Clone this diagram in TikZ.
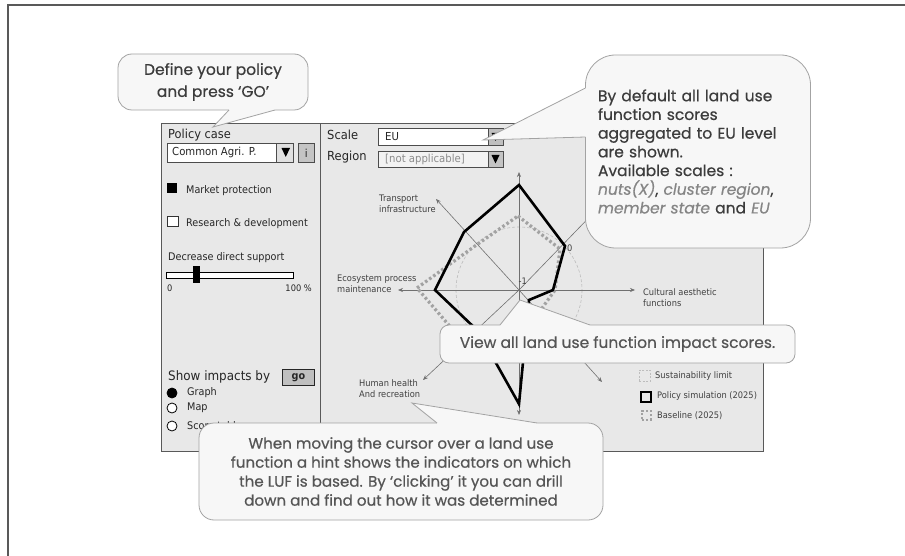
\documentclass[tikz,border=0pt]{standalone}
\usepackage{fontspec}
\setmainfont{DejaVu Sans}
\newfontfamily\uifont{DejaVu Sans}[FakeStretch=0.92]
\newfontfamily\tipfont{Poppins}[FakeBold=0.55]
\usetikzlibrary{arrows.meta,calc}

\definecolor{panel}{HTML}{E8E8E8}
\definecolor{frameline}{HTML}{595959}
\definecolor{tipfill}{HTML}{F7F7F7}
\definecolor{tipline}{HTML}{A3A3A3}
\definecolor{tiptext}{HTML}{555555}
\definecolor{tipdark}{HTML}{3C3C3C}
\definecolor{tipsoft}{HTML}{858585}
\definecolor{axisgray}{HTML}{707070}
\definecolor{basegray}{HTML}{A2A2A2}
\definecolor{limitgray}{HTML}{BDBDBD}
\definecolor{knobgray}{HTML}{C4C4C4}

\tikzset{
  panelbox/.style={draw=frameline, fill=panel, line width=0.9pt},
  field/.style={draw=black!70, fill=white, line width=0.7pt, inner sep=0pt, anchor=north west},
  knob/.style={draw=black!70, fill=knobgray, line width=0.7pt, inner sep=0pt, anchor=north west},
  ui/.style={font=\uifont\fontsize{10.5}{12}\selectfont, text=black!85, inner sep=0pt, anchor=west},
  axis/.style={draw=axisgray, line width=0.6pt, -{Stealth[length=5pt,width=4pt]}},
  radarlabel/.style={font=\uifont\fontsize{9}{11}\selectfont, text=black!75, align=left, anchor=west, inner sep=0pt},
  policy/.style={draw=black, line width=2.6pt, line join=miter},
  baseline/.style={draw=basegray, line width=3.2pt, dash pattern=on 2.6pt off 2.4pt},
  limit/.style={draw=limitgray, line width=0.6pt, dash pattern=on 3pt off 2pt},
  callbox/.style={draw=tipline, fill=tipfill, line width=0.8pt, rounded corners=#1, inner sep=0pt},
  tipedge/.style={draw=tipline, line width=0.8pt, line join=miter},
  tipfillonly/.style={fill=tipfill},
}

\begin{document}
\begin{tikzpicture}[x=1pt,y=-1pt]
\useasboundingbox (0,0) rectangle (905,556);
\fill[white] (0,0) rectangle (905,556);

% page frame
\draw[frameline, line width=2pt] (8,556) -- (8,5) -- (905,5);

% window panels
\node[panelbox, inner sep=0pt, anchor=north west, minimum width=159pt, minimum height=328pt] (left) at (161,123) {};
\node[panelbox, inner sep=0pt, anchor=north west, minimum width=443pt, minimum height=328pt] (right) at (320,123) {};

% ---- policy controls
\node[ui, font=\uifont\fontsize{12.4}{14}\selectfont] (pc) at (168,135) {Policy case};
\node[field, minimum width=126pt, minimum height=19pt] (agri) at (167,143) {};
\node[ui, font=\uifont\fontsize{11}{13}\selectfont] (agritxt) at (172,152.5) {Common Agri. P.};
\node[knob, fill=black!12, minimum width=17pt, minimum height=19pt] (agribtn) at (276,143) {};
\fill (281.5,148) -- (290,148) -- (285.75,157) -- cycle;
\node[knob, minimum width=16pt, minimum height=19pt] (info) at (298,143) {};
\node[ui, anchor=center, font=\uifont\fontsize{11}{13}\selectfont] (infotxt) at (info.center) {i};

\node[fill=black, inner sep=0pt, minimum size=10pt, anchor=north west] (mp) at (167,183) {};
\node[ui] (mptxt) at (186,191) {Market protection};
\node[draw=black!80, fill=white, line width=0.7pt, inner sep=0pt, minimum size=10.5pt, anchor=north west] (rd) at (167,216) {};
\node[ui] (rdtxt) at (186,224) {Research \& development};

\node[ui] (dds) at (168,258) {Decrease direct support};
\node[draw=black, fill=white, line width=1.3pt, inner sep=0pt, minimum width=127pt, minimum height=6pt, anchor=north west] (track) at (166,272) {};
\node[fill=black, inner sep=0pt, minimum width=7pt, minimum height=17pt, anchor=north west] (thumb) at (193,266) {};
\node[ui, font=\uifont\fontsize{9}{10}\selectfont] (zero) at (167,288) {0};
\node[ui, anchor=east, font=\uifont\fontsize{9}{10}\selectfont] (hundred) at (312,288) {100 \%};

\node[ui, font=\uifont\fontsize{13}{15}\selectfont] (show) at (168,377) {Show impacts by};
\node[draw=black!85, fill=black!25, line width=0.8pt, inner sep=0pt, minimum width=32pt, minimum height=16pt, anchor=north west] (go) at (282,369) {};
\node[ui, anchor=center, font=\uifont\fontsize{10.5}{12}\selectfont\bfseries] (gotxt) at (go.center) {go};

\node[circle, draw=black, fill=black, line width=0.8pt, inner sep=0pt, minimum size=10pt] (rgraph) at (172,393) {};
\node[circle, draw=black, fill=white, line width=0.8pt, inner sep=0pt, minimum size=10pt] (rmap) at (172,408) {};
\node[circle, draw=black, fill=white, line width=0.8pt, inner sep=0pt, minimum size=10pt] (rtable) at (172,426) {};
\node[ui] (graphtxt) at (187,393) {Graph};
\node[ui] (maptxt) at (187,408) {Map};
\node[ui] (tabletxt) at (187,426) {Score table};

% ---- scale and region
\node[ui, font=\uifont\fontsize{12.5}{14}\selectfont] (scale) at (327,135) {Scale};
\node[ui, font=\uifont\fontsize{12.5}{14}\selectfont] (region) at (327,157) {Region};
\node[field, minimum width=125pt, minimum height=17pt] (scalebox) at (378,128) {};
\node[ui, font=\uifont\fontsize{11}{13}\selectfont] (eu) at (385,137) {EU};
\node[knob, fill=black!25, minimum width=15pt, minimum height=17pt] (scalebtn) at (488,128) {};
\fill (491.5,133) -- (499.5,133) -- (495.5,141) -- cycle;
\node[field, fill=black!5, minimum width=125pt, minimum height=16pt] (regionbox) at (378,151) {};
\node[ui, text=black!45, font=\uifont\fontsize{11}{13}\selectfont] (na) at (385,159) {[not applicable]};
\node[knob, minimum width=15pt, minimum height=16pt] (regionbtn) at (488,151) {};
\fill (491.5,155) -- (499.5,155) -- (495.5,163.5) -- cycle;

% ---- radar chart
\coordinate (c) at (519,290);
\draw[limit] (c) circle[radius=63];
\coordinate (aN) at (519,172);
\coordinate (aS) at (519,415);
\coordinate (aW) at (398,290);
\coordinate (aE) at (635,290);
\coordinate (aNW) at (436,199);
\coordinate (aSW) at (423,380);
\coordinate (aSE) at (602,382);
\coordinate (aNE) at (604,202);
\foreach \a in {aN,aS,aW,aE,aNW,aSW,aSE,aNE} \draw[axis] (c) -- (\a);

\draw[baseline] (518,216) -- (560,249) -- (555,290) -- (540,311) -- (519,352)
  -- (465,344) -- (417,288) -- (475,246) -- cycle;
\draw[policy] (519,185) -- (565,246) -- (553,290) -- (529,300) -- (519,404)
  -- (478,331) -- (435,290) -- (464,232) -- cycle;

\node[radarlabel, font=\uifont\fontsize{9}{10}\selectfont] (lzero) at (567,248) {0};
\node[radarlabel, font=\uifont\fontsize{9}{10}\selectfont] (lmin) at (518.5,281) {-1};

\node[radarlabel] (ltrans) at (379,203.5) {Transport\\infrastructure};
\node[radarlabel] (leco) at (337,284) {Ecosystem process\\maintenance};
\node[radarlabel] (lcult) at (643,297.5) {Cultural aesthetic\\functions};
\node[radarlabel] (lhuman) at (359,389) {Human health\\And recreation};

% ---- legend
\node[draw=limitgray, dash pattern=on 2pt off 1.5pt, line width=0.6pt, inner sep=0pt, minimum size=11pt, anchor=north west] (kl) at (639,370) {};
\node[draw=black, line width=2.4pt, inner sep=0pt, minimum size=10pt, anchor=north west] (kp) at (640,391) {};
\node[draw=basegray, line width=2.6pt, dash pattern=on 2pt off 2.2pt, inner sep=0pt, minimum size=9pt, anchor=north west] (kb) at (640.5,409.5) {};
\node[radarlabel] (tl1) at (655,376) {Sustainability limit};
\node[radarlabel] (tl2) at (657,396) {Policy simulation (2025)};
\node[radarlabel] (tl3) at (657,416) {Baseline (2025)};

% ---- call-outs
% policy hint
\node[callbox=14pt, minimum width=190pt, minimum height=56pt, align=center,
  font=\tipfont\fontsize{15.5}{22}\selectfont, text=tipdark] (tipgo) at (213,82)
  {Define your policy\\and press ‘GO’};
\coordinate (tipgo-tip) at (213,127);
\coordinate (tipgo-a) at (229,110);
\coordinate (tipgo-b) at (275,110);
\fill[tipfillonly] (tipgo-a) -- (tipgo-tip) -- (tipgo-b) -- ($(tipgo-b)+(0,-1.5)$) -- ($(tipgo-a)+(0,-1.5)$) -- cycle;
\draw[tipedge] (tipgo-a) -- (tipgo-tip) -- (tipgo-b);

% scale hint
\node[callbox=30pt, minimum width=225pt, minimum height=193pt, align=left, text width=200pt,
  font=\tipfont\fontsize{15.5}{18.7}\selectfont, text=tipdark] (tipscale) at (698,151.5)
  {By default all land use\\function scores\\aggregated to EU level\\are shown.\\Available scales :\\
   {\color{tipsoft}\itshape nuts(X)}, {\color{tipsoft}\itshape cluster region},\\
   {\color{tipsoft}\itshape member state} and {\color{tipsoft}\itshape EU}};
\coordinate (tipscale-tip) at (483,140);
\coordinate (tipscale-a) at (585.5,88);
\coordinate (tipscale-b) at (585.5,137);
\fill[tipfillonly] (tipscale-a) -- (tipscale-tip) -- (tipscale-b) -- ($(tipscale-b)+(1.5,0)$) -- ($(tipscale-a)+(1.5,0)$) -- cycle;
\draw[tipedge] (tipscale-a) -- (tipscale-tip) -- (tipscale-b);

% score hint
\node[callbox=9pt, minimum width=355pt, minimum height=38pt,
  font=\tipfont\fontsize{15.5}{18}\selectfont, text=tiptext] (tipview) at (617.5,344)
  {View all land use function impact scores.};
\coordinate (tipview-tip) at (520,300);
\coordinate (tipview-a) at (500,325);
\coordinate (tipview-b) at (590,325);
\fill[tipfillonly] (tipview-a) -- (tipview-tip) -- (tipview-b) -- ($(tipview-b)+(0,1.5)$) -- ($(tipview-a)+(0,1.5)$) -- cycle;
\draw[tipedge] (tipview-a) -- (tipview-tip) -- (tipview-b);

% cursor hint
\node[callbox=15pt, minimum width=404pt, minimum height=97pt, align=center,
  font=\tipfont\fontsize{15.1}{19}\selectfont, text=tiptext] (tipcursor) at (401,471.5)
  {When moving the cursor over a land use\\function a hint shows the indicators on which\\the LUF is based. By ‘clicking’ it you can drill\\down and find out how it was determined};
\coordinate (tipcursor-tip) at (412,403);
\coordinate (tipcursor-a) at (437,423);
\coordinate (tipcursor-b) at (537,423);
\fill[tipfillonly] (tipcursor-a) -- (tipcursor-tip) -- (tipcursor-b) -- ($(tipcursor-b)+(0,1.5)$) -- ($(tipcursor-a)+(0,1.5)$) -- cycle;
\draw[tipedge] (tipcursor-a) -- (tipcursor-tip) -- (tipcursor-b);

\end{tikzpicture}
\end{document}
